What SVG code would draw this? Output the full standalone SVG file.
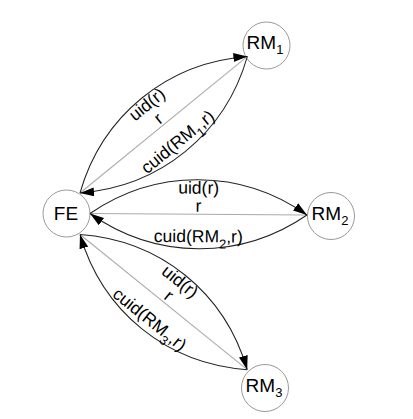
<svg xmlns="http://www.w3.org/2000/svg" width="413" height="419" viewBox="0 0 413 419">
<style>
.node{fill:#fff;stroke:#999;stroke-width:1}
.nt{font-family:"Liberation Sans",Arial,sans-serif;font-size:19px;fill:#000;text-anchor:middle}
.sub{font-size:13px}
.gl{fill:none;stroke:#aaa;stroke-width:1}
.cv{fill:none;stroke:#222;stroke-width:1;marker-end:url(#ah)}
.el{font-family:"Liberation Sans",Arial,sans-serif;font-size:17.5px;fill:#000;text-anchor:middle}
</style>
<defs>
<marker id="ah" markerWidth="15" markerHeight="10" refX="14" refY="4.5" orient="auto" markerUnits="userSpaceOnUse">
<path d="M0,0 L14,4.5 L0,9 z" fill="#000"/>
</marker>
</defs>
<rect width="413" height="419" fill="#fff"/>
<g id="FE"><circle class="node" cx="66.5" cy="213.5" r="23.5"/><text class="nt" x="66" y="220">FE</text></g>
<g id="RM1"><circle class="node" cx="266.5" cy="45.5" r="23.5"/><text class="nt" x="265" y="48.5">RM<tspan class="sub" dy="5">1</tspan></text></g>
<g id="RM2"><circle class="node" cx="331" cy="216" r="23.5"/><text class="nt" x="330" y="220">RM<tspan class="sub" dy="5">2</tspan></text></g>
<g id="RM3"><circle class="node" cx="265" cy="388" r="23.5"/><text class="nt" x="264" y="391.5">RM<tspan class="sub" dy="5">3</tspan></text></g>
<g id="connectors">
<g id="e-FE-RM1" transform="translate(80,193) rotate(-39.2)">
<path class="gl" d="M0,0 L216,0"/>
<path class="cv" d="M0,0 C66,-46 150,-46 216,0"/>
<path class="cv" d="M216,0 C150,46 66,46 0,0"/>
<text class="el" x="108" y="-20.5">uid(r)</text>
<text class="el" x="108" y="-2.5">r</text>
<text class="el" x="108" y="28">cuid(RM<tspan class="sub" dy="6">1</tspan><tspan dy="-6">,r)</tspan></text>
</g>
<g id="e-FE-RM2" transform="translate(90,213.5) rotate(0.4)">
<path class="gl" d="M0,0 L217,0"/>
<path class="cv" d="M0,0 C66,-46 151,-46 217,0"/>
<path class="cv" d="M217,0 C151,46 66,46 0,0"/>
<text class="el" x="108.5" y="-20.5">uid(r)</text>
<text class="el" x="108.5" y="-2.5">r</text>
<text class="el" x="108.5" y="28">cuid(RM<tspan class="sub" dy="6">2</tspan><tspan dy="-6">,r)</tspan></text>
</g>
<g id="e-FE-RM3" transform="translate(80,234.5) rotate(38.95)">
<path class="gl" d="M0,0 L215,0"/>
<path class="cv" d="M0,0 C66,-46 149,-46 215,0"/>
<path class="cv" d="M215,0 C149,46 66,46 0,0"/>
<text class="el" x="107.5" y="-20.5">uid(r)</text>
<text class="el" x="107.5" y="-2.5">r</text>
<text class="el" x="107.5" y="28">cuid(RM<tspan class="sub" dy="6">3</tspan><tspan dy="-6">,r)</tspan></text>
</g>
</g>
</svg>
